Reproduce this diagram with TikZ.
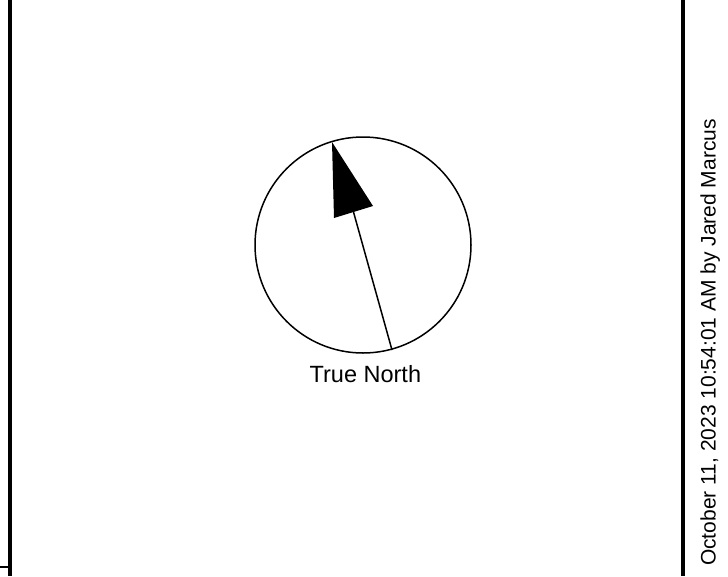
\documentclass[tikz,border=0pt]{standalone}
\usepackage{fontspec}
\setmainfont{Liberation Sans}
\begin{document}
\begin{tikzpicture}[x=1pt,y=-1pt,
  frameline/.style={line width=3.8pt},
  thin/.style={line width=1.5pt},
  label/.style={inner sep=0pt, anchor=base, font=\fontsize{23.5}{28}\selectfont},
  stamp/.style={inner sep=0pt, anchor=base, rotate=90, font=\fontsize{21}{25}\selectfont}]
\useasboundingbox (0,0) rectangle (728,576);
% frame
\coordinate (lt) at (10,0);
\coordinate (lb) at (10,576);
\coordinate (rt) at (683,0);
\coordinate (rb) at (683,576);
\coordinate (tk1) at (0,567);
\coordinate (tk2) at (10,567);
\draw[frameline] (lt) -- (lb);
\draw[frameline] (rt) -- (rb);
\draw[line width=2pt] (tk1) -- (tk2);
% compass
\node[draw, circle, thin, minimum size=216pt, inner sep=0pt] (dial) at (363,245) {};
\coordinate (tip) at (332,142);
\coordinate (bl) at (334,218);
\coordinate (br) at (373,206);
\coordinate (bm) at (353.5,212);
\coordinate (tail) at (392,350);
\fill (tip) -- (bl) -- (br) -- cycle;
\draw[thin] (bm) -- (tail);
\node[label] (tn) at (365.4,382) {True North};
\node[stamp] (st) at (715.7,342.5) {October 11, 2023 10:54:01 AM by Jared Marcus};
\end{tikzpicture}
\end{document}
